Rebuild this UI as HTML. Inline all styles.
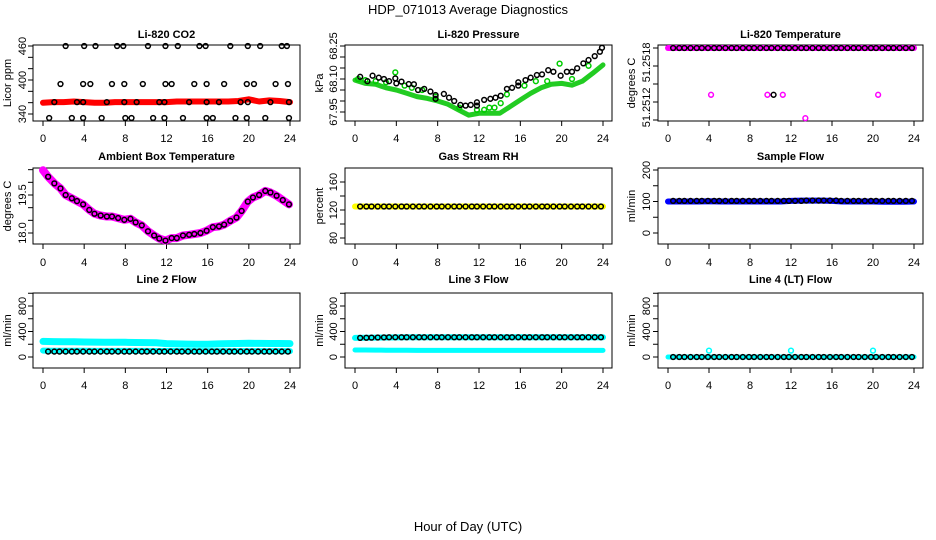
<!DOCTYPE html>
<html><head><meta charset="utf-8"><style>
html,body{margin:0;padding:0;background:#fff}
svg{display:block;font-family:"Liberation Sans",sans-serif}
</style></head><body>
<svg id="chart" width="936" height="540" viewBox="0 0 936 540" xmlns="http://www.w3.org/2000/svg">
<text x="468" y="14" font-size="13" text-anchor="middle">HDP_071013  Average Diagnostics</text>
<text x="468" y="531" font-size="13" text-anchor="middle">Hour of Day (UTC)</text>
<g id="panels"></g>
</svg>
<script>
// ---- data ----
const xTicks = [0,4,8,12,16,20,24];
const hoursBlack = [0.5,1.1,1.6,2.2,2.8,3.3,3.9,4.5,5.0,5.6,6.2,6.7,7.3,7.9,8.4,9.0,9.6,10.1,10.7,11.3,11.8,12.4,13.0,13.5,14.1,14.7,15.2,15.8,16.4,16.9,17.5,18.1,18.6,19.2,19.8,20.3,20.9,21.5,22.0,22.6,23.2,23.8];
const hoursBand = [0,1,2,3,4,5,6,7,8,9,10,11,12,13,14,15,16,17,18,19,20,21,22,23,24];

// Li-820 CO2
const co2BandValues = [360,361,361,362,361,360,360,361,361,361,361,361,361,362,362,362,362,362,362,363,366,362,364,363,361];
const co2PointHours = [2.2,4.0,5.1,7.2,7.8,10.2,11.9,13.1,15.2,15.8,18.2,19.9,21.1,23.2,23.7,
 1.7,3.9,4.6,6.7,7.9,9.7,11.9,12.5,14.7,15.9,17.6,19.8,20.5,22.6,23.8,
 1.1,3.3,3.9,6.2,7.9,9.1,11.3,11.8,14.2,15.9,17.1,19.2,19.9,22.1,23.9,
 0.6,2.8,3.9,5.7,8.0,8.6,10.7,11.8,13.6,15.9,16.5,18.7,19.8,21.6,23.9];
const co2PointValues = [460,460,460,460,460,460,460,460,460,460,460,460,460,460,460,
 393,393,393,393,393,393,393,393,393,393,393,393,393,393,393,
 361,361,361,361,361,361,361,361,361,361,361,361,361,361,361,
 333,333,333,333,333,333,333,333,333,333,333,333,333,333,333];

// Li-820 Pressure
const presBandValues = [68.095,68.08,68.076,68.06,68.05,68.035,68.02,68.012,68.0,67.985,67.96,67.936,67.944,67.944,67.944,67.974,68.005,68.035,68.06,68.076,68.08,68.072,68.09,68.126,68.164];
const presBlackHours = [0.5,1.2,1.7,2.3,2.8,3.3,3.9,4.0,4.5,5.2,5.7,6.1,6.7,7.3,7.8,7.8,8.6,9.1,9.6,10.2,10.7,11.2,11.8,11.8,12.5,13.1,13.6,14.1,14.7,15.2,15.8,15.8,16.5,17.0,17.6,18.1,18.7,19.2,19.9,20.5,21.0,21.5,22.1,22.6,23.2,23.7,23.9];
const presBlackValues = [68.11,68.09,68.115,68.106,68.10,68.09,68.103,68.08,68.088,68.077,68.076,68.05,68.055,68.043,68.027,68.01,68.032,68.015,68.0,67.982,67.979,67.982,67.979,67.994,68.005,68.01,68.015,68.024,68.055,68.06,68.07,68.085,68.095,68.106,68.118,68.121,68.14,68.133,68.115,68.133,68.133,68.149,68.171,68.186,68.204,68.224,68.242];
const presGreenHours = [0.3,1.0,2.0,3.0,3.9,4.8,5.5,6.5,7.8,10.1,11.8,12.5,13.0,13.5,14.1,14.7,16.4,17.5,18.6,19.8,21.0,22.6];
const presGreenValues = [68.10,68.095,68.09,68.085,68.13,68.07,68.06,68.05,68.02,67.97,67.96,67.96,67.97,67.97,67.99,68.03,68.07,68.09,68.09,68.17,68.10,68.16];

// Li-820 Temperature
const tempBandValues = [51.2518,51.2518,51.2518,51.2518,51.2518,51.2518,51.2518,51.2518,51.2518,51.2518,51.2518,51.2518,51.2518,51.2518,51.2518,51.2518,51.2518,51.2518,51.2518,51.2518,51.2518,51.2518,51.2518,51.2518,51.2518];
const tempOutHours = [4.2,9.7,11.2,20.5,13.4];
const tempOutValues = [51.25128,51.25128,51.25128,51.25128,51.25102];
const tempBlackOutHours = [10.3];
const tempBlackOutValues = [51.25128];

// Ambient Box Temperature
const ambHours = [0,0.5,1.1,1.7,2.2,2.8,3.3,3.9,4.5,5.0,5.6,6.2,6.7,7.3,7.9,8.5,9.0,9.6,10.2,10.8,11.3,11.9,12.5,13.0,13.6,14.2,14.7,15.3,15.9,16.5,17.1,17.6,18.2,18.8,19.3,19.9,20.4,21.0,21.6,22.1,22.7,23.3,23.9];
const ambValues = [20.48,20.22,19.96,19.76,19.5,19.37,19.26,19.13,18.91,18.76,18.69,18.65,18.65,18.59,18.52,18.56,18.42,18.30,18.07,17.90,17.78,17.70,17.80,17.80,17.90,17.93,17.96,18.0,18.09,18.23,18.26,18.33,18.48,18.61,18.87,19.24,19.40,19.5,19.66,19.60,19.47,19.30,19.13];

// Gas Stream RH
const rhBandValues = [125,125,125,125,125,125,125,125,125,125,125,125,125,125,125,125,125,125,125,125,125,125,125,125,125];
// Sample Flow
const flowBandValues = [100,100,100,100,101,100,100,100,100,100,100,100,102,103,103,103,102,100,100,100,100,99,99,99,100];
// Line flows
const line2Upper = [245,242,240,238,235,233,232,231,230,228,226,222,210,205,203,200,200,205,210,212,215,213,212,211,210];
const line2Lower = [100,98,98,97,97,96,96,96,95,95,95,94,94,94,94,93,93,93,93,93,93,93,93,93,93];
const line3Upper = [300,302,305,306,308,310,310,310,310,310,310,310,310,310,310,310,310,310,310,310,310,310,310,310,310];
const line3Lower = [110,110,108,106,105,105,104,104,104,104,104,104,104,104,104,104,104,104,104,104,104,104,104,104,104];
const line4Band = [0,0,0,0,0,0,0,0,0,0,0,0,0,0,0,0,0,0,0,0,0,0,0,0,0];
const line4OutHours = [4.0,12.0,20.0];
const line4OutValues = [100,100,100];

// constant black series
const rhBlack = [125,125,125,125,125,125,125,125,125,125,125,125,125,125,125,125,125,125,125,125,125,125,125,125,125,125,125,125,125,125,125,125,125,125,125,125,125,125,125,125,125,125];
const flowBlack = [102,102,102,102,102,102,102,102,102,102,102,102,102,102,102,102,102,102,102,102,102,102,102,103,103,103,103,103,103,102,102,102,102,102,102,102,102,102,102,102,102,102];
const tempBlack = [51.2518,51.2518,51.2518,51.2518,51.2518,51.2518,51.2518,51.2518,51.2518,51.2518,51.2518,51.2518,51.2518,51.2518,51.2518,51.2518,51.2518,51.2518,51.2518,51.2518,51.2518,51.2518,51.2518,51.2518,51.2518,51.2518,51.2518,51.2518,51.2518,51.2518,51.2518,51.2518,51.2518,51.2518,51.2518,51.2518,51.2518,51.2518,51.2518,51.2518,51.2518,51.2518];
const line2Black = [85,85,85,85,85,85,85,85,85,85,85,85,85,85,85,85,85,85,85,85,85,85,85,85,85,85,85,85,85,85,85,85,85,85,85,85,85,85,85,85,85,85];
const line3Black = [300,302,304,306,308,310,310,310,310,310,310,310,310,310,310,310,310,310,310,310,310,310,310,310,310,310,310,310,310,310,310,310,310,310,310,310,310,310,310,310,310,310];
const line4Black = [0,0,0,0,0,0,0,0,0,0,0,0,0,0,0,0,0,0,0,0,0,0,0,0,0,0,0,0,0,0,0,0,0,0,0,0,0,0,0,0,0,0];

// ---- layout ----
const NS = "http://www.w3.org/2000/svg";
const root = document.getElementById('panels');
const colBoxL=[33,345,658], colBoxR=[300,612,923], colX0=[43,355,668], colX24=[290,603,914];
const colTickLab=[26,337,650], colYTitle=[11,323,635];
const rowBoxT=[45,168,293], rowBoxB=[121,244,368], rowTitle=[38,160,283], rowXLab=[142,266,389];

function mk(tag, attrs, parent){const e=document.createElementNS(NS,tag);for(const k in attrs)e.setAttribute(k,attrs[k]);(parent||root).appendChild(e);return e;}

function panel(o){
  const c=o.col,r=o.row;
  const g=mk('g',{});
  
  
  const xs=h=>colX0[c]+(colX24[c]-colX0[c])*h/24;
  const ys=v=>o.p0+(o.p1-o.p0)*(v-o.v0)/(o.v1-o.v0);
  const t=mk('text',{x:(colBoxL[c]+colBoxR[c])/2,y:rowTitle[r],'font-size':11,'font-weight':'bold','text-anchor':'middle'},g);
  t.textContent=o.title;
  
  
  const box=mk('rect',{x:colBoxL[c],y:rowBoxT[r],width:colBoxR[c]-colBoxL[c],height:rowBoxB[r]-rowBoxT[r],fill:'none',stroke:'#000','stroke-width':1},g);
  
  
  const yb=rowBoxB[r];
  mk('line',{x1:xs(0),x2:xs(24),y1:yb,y2:yb,stroke:'#000'},g);
  xTicks.forEach(v=>{
    mk('line',{x1:xs(v),x2:xs(v),y1:yb,y2:yb+5,stroke:'#000'},g);
    const l=mk('text',{x:xs(v),y:rowXLab[r],'font-size':11,'text-anchor':'middle'},g);
    l.textContent=v;
    
    
  });
  const xl=colBoxL[c];
  mk('line',{x1:xl,x2:xl,y1:ys(o.ticks[0]),y2:ys(o.ticks[o.ticks.length-1]),stroke:'#000'},g);
  o.ticks.forEach(v=>{mk('line',{x1:xl-5,x2:xl,y1:ys(v),y2:ys(v),stroke:'#000'},g);});
  o.labels.forEach((lab,i)=>{
    const y=ys(o.labelVals[i]);
    const l=mk('text',{x:colTickLab[c],y:y,'font-size':11,'text-anchor':'middle',transform:`rotate(-90 ${colTickLab[c]} ${y})`},g);
    l.textContent=lab;
    
    
  });
  const my=(rowBoxT[r]+rowBoxB[r])/2;
  const yt=mk('text',{x:colYTitle[c],y:my,'font-size':11,'text-anchor':'middle',transform:`rotate(-90 ${colYTitle[c]} ${my})`},g);
  yt.textContent=o.ylab;
  
  
  (o.bands||[]).forEach(b=>{
    const pts=b.h.map((h,i)=>xs(h).toFixed(1)+','+ys(b.v[i]).toFixed(1)).join(' ');
    const pl=mk('polyline',{points:pts,fill:'none',stroke:b.color,'stroke-width':b.w||7,'stroke-linecap':'round','stroke-linejoin':'round'},g);
    
    
  });
  (o.points||[]).forEach(s=>{
    s.h.forEach((h,i)=>{
      const ci=mk('circle',{cx:xs(h),cy:ys(s.v[i]),r:2.4,fill:'none',stroke:s.color,'stroke-width':1.5},g);
      
      
    });
  });
}

panel({name:'co2',col:0,row:0,title:'Li-820 CO2',ylab:'Licor ppm',v0:340,v1:460,p0:114,p1:46,
 ticks:[340,360,380,400,420,440,460],labels:['340','400','460'],labelVals:[340,400,460],
 bands:[{h:hoursBand,v:co2BandValues,color:'#ff0000',w:6}],
 points:[{h:co2PointHours,v:co2PointValues,color:'#000'}]});
panel({name:'pressure',col:1,row:0,title:'Li-820 Pressure',ylab:'kPa',v0:67.95,v1:68.25,p0:112,p1:46,
 ticks:[67.95,68.0,68.05,68.1,68.15,68.2,68.25],labels:['67.95','68.10','68.25'],labelVals:[67.95,68.1,68.25],
 bands:[{h:hoursBand,v:presBandValues,color:'#22cc22',w:5}],
 points:[{h:presGreenHours,v:presGreenValues,color:'#00cc00'},{h:presBlackHours,v:presBlackValues,color:'#000'}]});
panel({name:'li820-temperature',col:2,row:0,title:'Li-820 Temperature',ylab:'degrees C',v0:51.2510,v1:51.2518,p0:120,p1:48,
 ticks:[51.2510,51.2512,51.2514,51.2516,51.2518],labels:['51.2518','51.2512'],labelVals:[51.25164,51.25114],
 bands:[{h:hoursBand,v:tempBandValues,color:'#ff00ff',w:6}],
 points:[{h:hoursBlack,v:tempBlack,color:'#000'},{h:tempOutHours,v:tempOutValues,color:'#ff00ff'},{h:tempBlackOutHours,v:tempBlackOutValues,color:'#000'}]});
panel({name:'ambient-temperature',col:0,row:1,title:'Ambient Box Temperature',ylab:'degrees C',v0:18.0,v1:19.5,p0:233,p1:195,
 ticks:[18.0,18.5,19.0,19.5,20.0,20.5],labels:['18.0','19.5'],labelVals:[18.0,19.5],
 bands:[{h:ambHours,v:ambValues,color:'#ff00ff',w:8}],
 points:[{h:ambHours.slice(1),v:ambValues.slice(1),color:'#000'}]});
panel({name:'gas-stream-rh',col:1,row:1,title:'Gas Stream RH',ylab:'percent',v0:80,v1:160,p0:238,p1:182,
 ticks:[80,100,120,140,160],labels:['80','120','160'],labelVals:[80,120,160],
 bands:[{h:hoursBand,v:rhBandValues,color:'#ffff00',w:6}],
 points:[{h:hoursBlack,v:rhBlack,color:'#000'}]});
panel({name:'sample-flow',col:2,row:1,title:'Sample Flow',ylab:'ml/min',v0:0,v1:200,p0:233,p1:170,
 ticks:[0,50,100,150,200],labels:['0','100','200'],labelVals:[0,100,200],
 bands:[{h:hoursBand,v:flowBandValues,color:'#0000ff',w:6}],
 points:[{h:hoursBlack,v:flowBlack,color:'#000'}]});
panel({name:'line2-flow',col:0,row:2,title:'Line 2 Flow',ylab:'ml/min',v0:0,v1:800,p0:357,p1:306,
 ticks:[0,200,400,600,800,1000],labels:['0','400','800'],labelVals:[0,400,800],
 bands:[{h:hoursBand,v:line2Upper,color:'#00ffff',w:7},{h:hoursBand,v:line2Lower,color:'#00ffff',w:6}],
 points:[{h:hoursBlack,v:line2Black,color:'#000'}]});
panel({name:'line3-flow',col:1,row:2,title:'Line 3 Flow',ylab:'ml/min',v0:0,v1:800,p0:357,p1:306,
 ticks:[0,200,400,600,800,1000],labels:['0','400','800'],labelVals:[0,400,800],
 bands:[{h:hoursBand,v:line3Upper,color:'#00ffff',w:6},{h:hoursBand,v:line3Lower,color:'#00ffff',w:5}],
 points:[{h:hoursBlack,v:line3Black,color:'#000'}]});
panel({name:'line4-flow',col:2,row:2,title:'Line 4 (LT) Flow',ylab:'ml/min',v0:0,v1:800,p0:357,p1:306,
 ticks:[0,200,400,600,800,1000],labels:['0','400','800'],labelVals:[0,400,800],
 bands:[{h:hoursBand,v:line4Band,color:'#00ffff',w:5}],
 points:[{h:hoursBlack,v:line4Black,color:'#000'},{h:line4OutHours,v:line4OutValues,color:'#00ffff'}]});
</script>
</body></html>
